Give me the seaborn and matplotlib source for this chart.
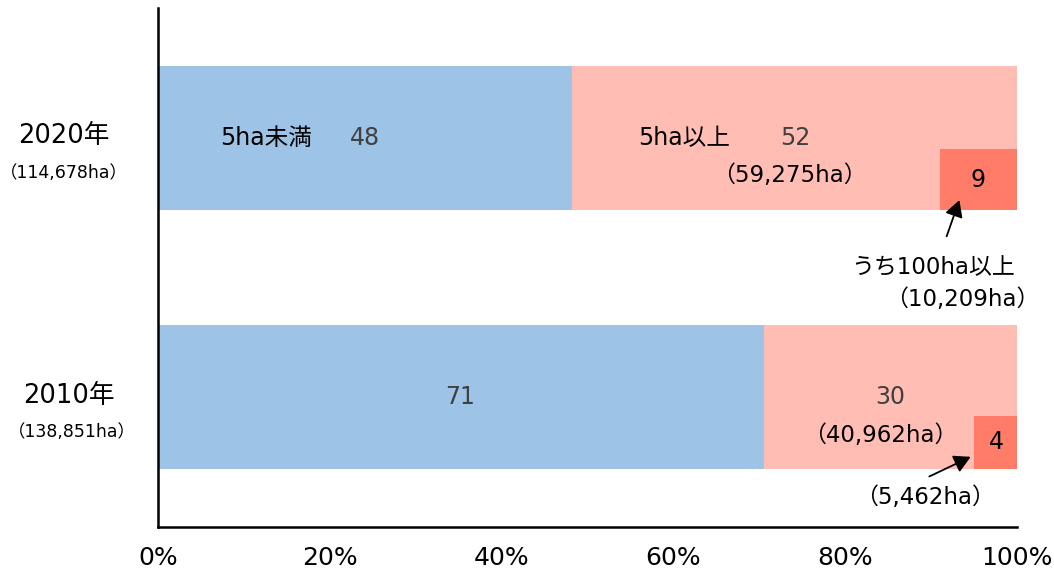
import numpy as np
import pandas as pd
import matplotlib
matplotlib.use("Agg")
import matplotlib.pyplot as plt
import seaborn as sns

# ---- data ----
years = ["2020年", "2010年"]
total_area = ["（114,678ha）", "（138,851ha）"]
share_under5 = [48.2, 70.5]      # 5ha未満 (%)
share_over5 = [51.8, 29.5]       # 5ha以上 (%)
share_over100 = [9.0, 5.0]       # うち100ha以上 (%)
label_under5 = ["48", "71"]
label_over5 = ["52", "30"]
label_over100 = ["9", "4"]
area_over5 = ["（59,275ha）", "（40,962ha）"]
area_over100 = ["（10,209ha）", "（5,462ha）"]

BLUE = "#9DC3E6"
PINK = "#FFBDB4"
CORAL = "#FF7C69"
GREY = "#404040"

sns.set_style("white")
plt.rcParams["font.family"] = ["DejaVu Sans", "Noto Sans CJK JP"]
plt.rcParams["text.color"] = "black"

df = pd.DataFrame({
    "year": years,
    "under5": share_under5,
    "total": np.array(share_under5) + np.array(share_over5),
})

fig = plt.figure(figsize=(10.54, 5.77), dpi=100)
ax = fig.add_axes([0.1499, 0.0867, 0.8150, 0.8994])

# pink total bar first, blue share on top
sns.barplot(data=df, x="total", y="year", color=PINK, saturation=1,
            width=0.554, linewidth=0, errorbar=None, ax=ax)
sns.barplot(data=df, x="under5", y="year", color=BLUE, saturation=1,
            width=0.554, linewidth=0, errorbar=None, ax=ax)

# 100ha+ block sits in the lower part of each bar
ypos = np.arange(len(years))
heights = np.array([0.235, 0.204])
ax.barh(ypos + 0.277 - heights / 2, share_over100,
        left=df["total"].values - np.array(share_over100),
        height=heights, color=CORAL, linewidth=0)

ax.set_xlim(0, 100)
ax.set_ylim(1.5, -0.5)
ax.set_xticks([0, 20, 40, 60, 80, 100])
ax.set_xticklabels([f"{t}%" for t in range(0, 101, 20)], fontsize=18)
ax.tick_params(axis="x", direction="in", length=6, width=1.5, pad=14,
               colors="black", labelcolor="black")
ax.set_yticks([])
ax.set_xlabel("")
ax.set_ylabel("")
for side in ["top", "right"]:
    ax.spines[side].set_visible(False)
for side in ["left", "bottom"]:
    ax.spines[side].set_linewidth(1.8)
    ax.spines[side].set_color("black")

# left year labels
year_x = [-10.9, -10.4]
area_x = [-11.0, -10.0]
for i, (yr, area) in enumerate(zip(years, total_area)):
    ax.text(year_x[i], i - 0.005, yr, ha="center", va="center", fontsize=18.5, clip_on=False)
    ax.text(area_x[i], i + 0.135, area, ha="center", va="center", fontsize=12.5, clip_on=False)

arrow = dict(arrowstyle="-|>,head_length=1.0,head_width=0.55", color="black", lw=1.3)

# 2020 labels
ax.text(7.2, 0, "5ha未満", ha="left", va="center", fontsize=17)
ax.text(24.1, 0, label_under5[0], ha="center", va="center", fontsize=17, color=GREY)
ax.text(61.2, 0, "5ha以上", ha="center", va="center", fontsize=17)
ax.text(74.2, 0, label_over5[0], ha="center", va="center", fontsize=17, color=GREY)
ax.text(73.5, 0.146, area_over5[0], ha="center", va="center", fontsize=16.5)
ax.text(95.5, 0.162, label_over100[0], ha="center", va="center", fontsize=17)
ax.annotate("", xy=(93.4, 0.23), xytext=(91.7, 0.39), arrowprops=arrow)
ax.text(90.2, 0.5, "うち100ha以上", ha="center", va="center", fontsize=16.5)
ax.text(93.6, 0.623, area_over100[0], ha="center", va="center", fontsize=16.5, clip_on=False)

# 2010 labels
ax.text(35.2, 1.0, label_under5[1], ha="center", va="center", fontsize=17, color=GREY)
ax.text(85.2, 1.0, label_over5[1], ha="center", va="center", fontsize=17, color=GREY)
ax.text(84.1, 1.146, area_over5[1], ha="center", va="center", fontsize=16.5)
ax.text(97.6, 1.173, label_over100[1], ha="center", va="center", fontsize=17)
ax.annotate("", xy=(94.9, 1.225), xytext=(89.5, 1.31), arrowprops=arrow)
ax.text(89.3, 1.385, area_over100[1], ha="center", va="center", fontsize=16.5)

fig.savefig("out.png", dpi=100)
